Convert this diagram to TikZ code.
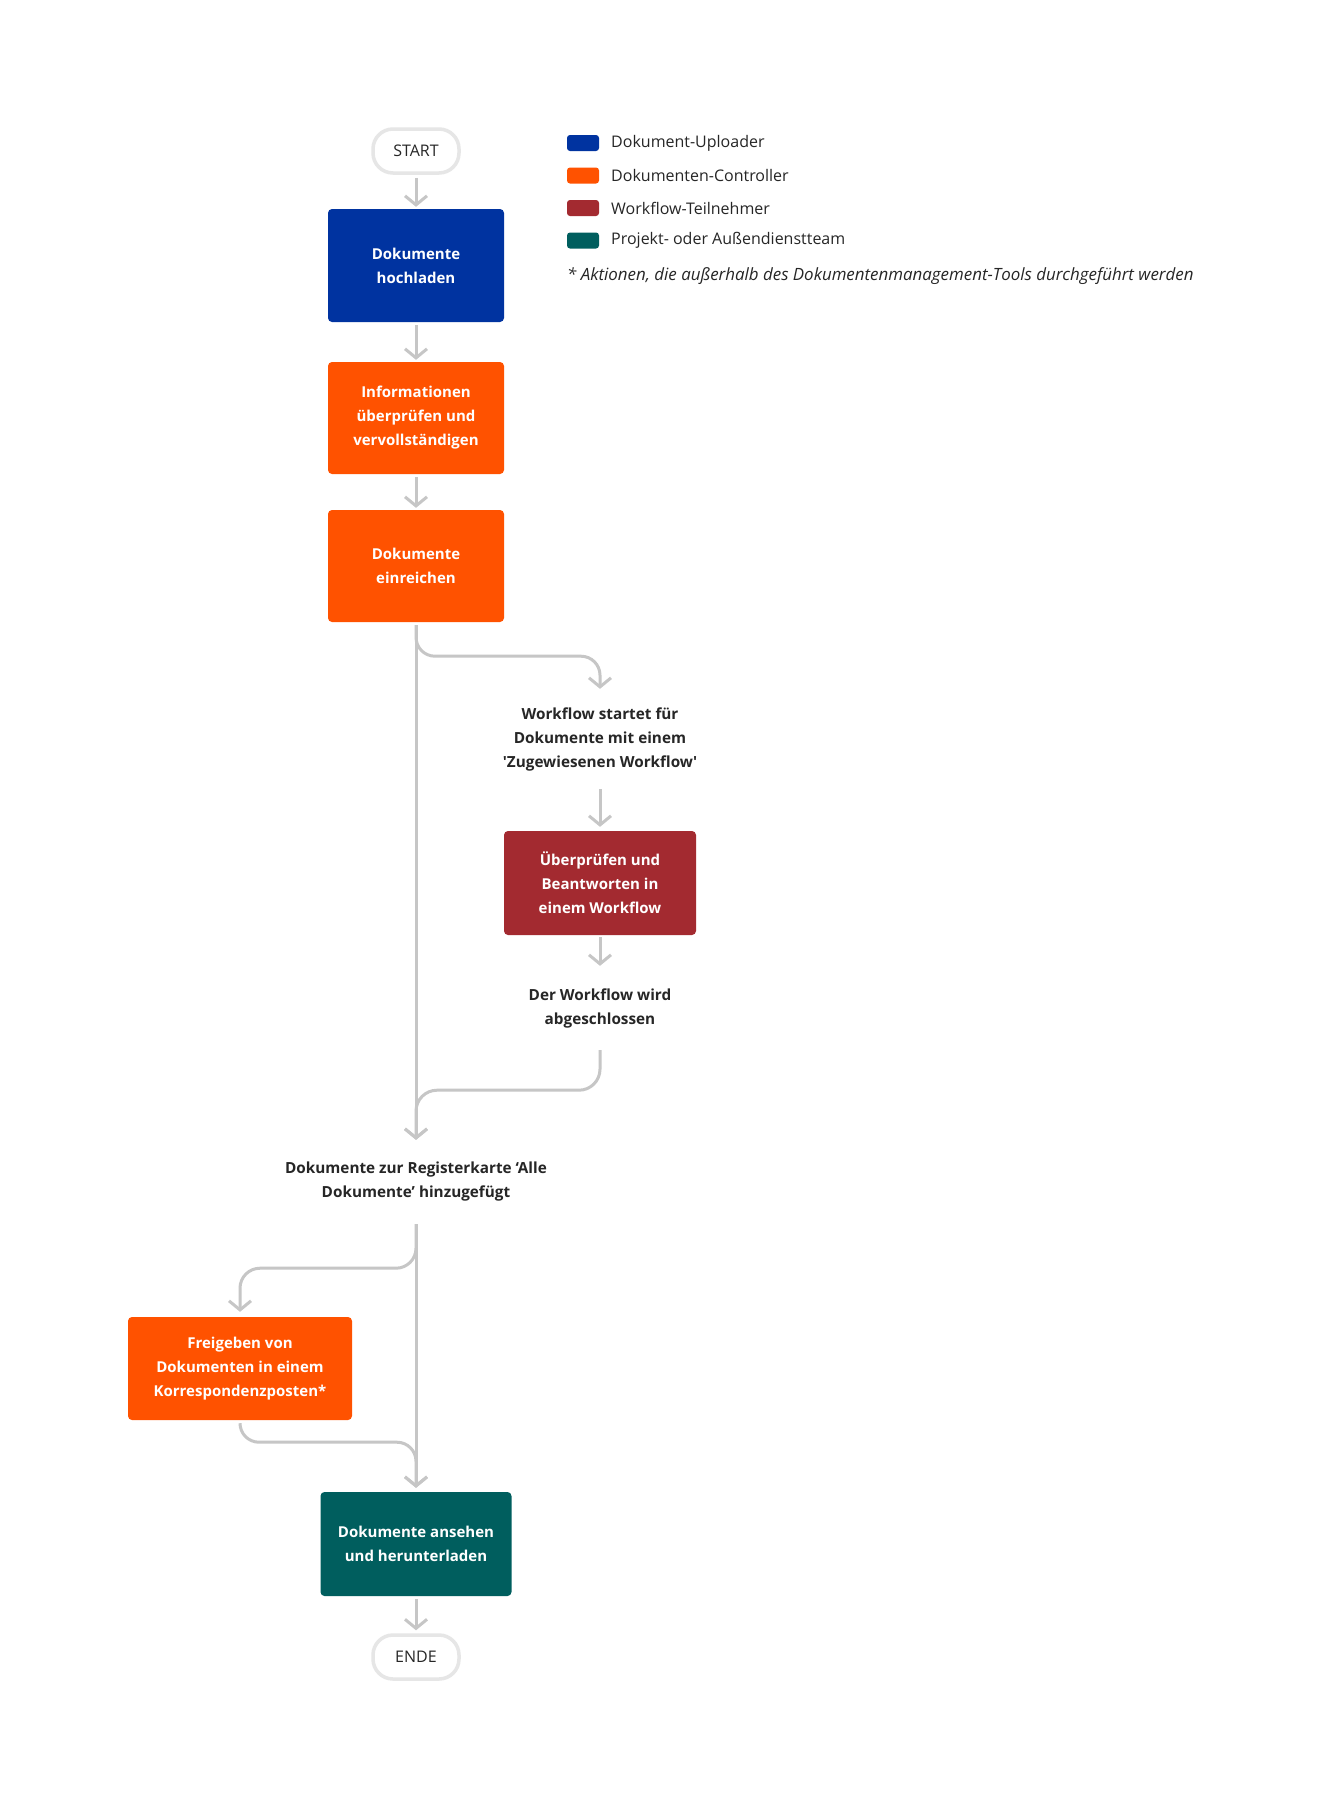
\documentclass[tikz,border=0pt]{standalone}
\usepackage{fontspec}
\setmainfont{Open Sans}
\usetikzlibrary{arrows.meta}
\definecolor{cblue}{HTML}{0033A0}
\definecolor{corange}{HTML}{FF5200}
\definecolor{cred}{HTML}{A32A30}
\definecolor{cteal}{HTML}{005E5E}
\definecolor{cgray}{HTML}{C6C6C6}
\definecolor{cpill}{HTML}{E6E6E6}
\definecolor{ctext}{HTML}{262626}
\tikzset{
  box/.style={rectangle, rounded corners=4pt, text=white, align=center, inner sep=0pt,
    font=\bfseries\fontsize{15}{24}\selectfont},
  lbl/.style={rectangle, text=ctext, align=center, inner sep=0pt,
    font=\bfseries\fontsize{15.3}{24}\selectfont},
  pill/.style={rectangle, draw=cpill, line width=3.5pt, rounded corners=20pt, fill=white,
    minimum width=86pt, minimum height=44pt, text=ctext, font=\fontsize{16}{20}\selectfont},
  swatch/.style={rectangle, rounded corners=3pt, minimum width=32pt, minimum height=16pt, inner sep=0pt},
  legtxt/.style={anchor=west, text=ctext, inner sep=0pt, font=\fontsize{16}{20}\selectfont},
  conn/.style={draw=cgray, line width=3pt, -{Straight Barb[length=9pt,width=22pt]}}
}
\begin{document}
\begin{tikzpicture}[x=1pt,y=-1pt]
\useasboundingbox[fill=white] (0,0) rectangle (1324,1808);

% main nodes
\node[pill] (start) at (416,151) {START};
\node[box, fill=cblue, minimum width=176pt, minimum height=113pt] (up) at (416,265.5) {Dokumente\\hochladen};
\node[box, fill=corange, minimum width=176pt, minimum height=112pt] (info) at (416,418) {Informationen\\überprüfen und\\vervollständigen};
\node[box, fill=corange, minimum width=176pt, minimum height=112pt] (einr) at (416,566) {Dokumente\\einreichen};
\node[lbl, minimum height=100pt] (wfs) at (600,739) {Workflow startet für\\Dokumente mit einem\\\textquotesingle Zugewiesenen Workflow\textquotesingle};
\node[box, fill=cred, minimum width=192pt, minimum height=104pt] (rev) at (600,883) {Überprüfen und\\Beantworten in\\einem Workflow};
\node[lbl, minimum height=84pt] (wfd) at (600,1008) {Der Workflow wird\\abgeschlossen};
\node[lbl, minimum height=84pt] (alle) at (416,1182) {Dokumente zur Registerkarte ‘Alle\\Dokumente’ hinzugefügt};
\node[box, fill=corange, minimum width=224pt, minimum height=103pt] (frei) at (240,1368.5) {Freigeben von\\Dokumenten in einem\\Korrespondenzposten*};
\node[box, fill=cteal, minimum width=191pt, minimum height=104pt] (view) at (416,1544) {Dokumente ansehen\\und herunterladen};
\node[pill] (ende) at (416,1657) {ENDE};

% legend
\node[swatch, fill=cblue] (s1) at (583,143) {};
\node[swatch, fill=corange] (s2) at (583,175.5) {};
\node[swatch, fill=cred] (s3) at (583,208) {};
\node[swatch, fill=cteal] (s4) at (583,240.5) {};
\node[legtxt] (l1) at (611,143) {Dokument-Uploader};
\node[legtxt] (l2) at (611,175.5) {Dokumenten-Controller};
\node[legtxt] (l3) at (611,208) {Workflow-Teilnehmer};
\node[legtxt] (l4) at (611,240.5) {Projekt- oder Außendienstteam};
\node[legtxt, font=\itshape\fontsize{16.9}{20}\selectfont] (fn) at (567,276) {* Aktionen, die außerhalb des Dokumentenmanagement-Tools durchgeführt werden};

% connectors
\draw[conn, shorten <=3pt, shorten >=2pt] (start) -- (up);
\draw[conn, shorten <=3pt, shorten >=2pt] (up) -- (info);
\draw[conn, shorten <=3pt, shorten >=2pt] (info) -- (einr);
\draw[conn] ([yshift=-3pt]einr.south) -- (alle.north);
\draw[conn, rounded corners=19pt] ([yshift=-3pt]einr.south) -- ++(0,31) -| (wfs.north);
\draw[conn, shorten >=4pt] (wfs) -- (rev);
\draw[conn, shorten <=2pt] (rev) -- (wfd);
\draw[conn, rounded corners=21pt] (wfd.south) -- ++(0,40) -| (alle.north);
\draw[conn, shorten >=4pt] (alle.south) -- (view.north);
\draw[conn, rounded corners=20pt, shorten >=5pt] (alle.south) -- ++(0,44) -| (frei.north);
\draw[conn, rounded corners=19pt, shorten >=4pt] ([yshift=-3pt]frei.south) -- ++(0,19) -| (view.north);
\draw[conn, shorten <=3pt, shorten >=3pt] (view) -- (ende);
\end{tikzpicture}
\end{document}
